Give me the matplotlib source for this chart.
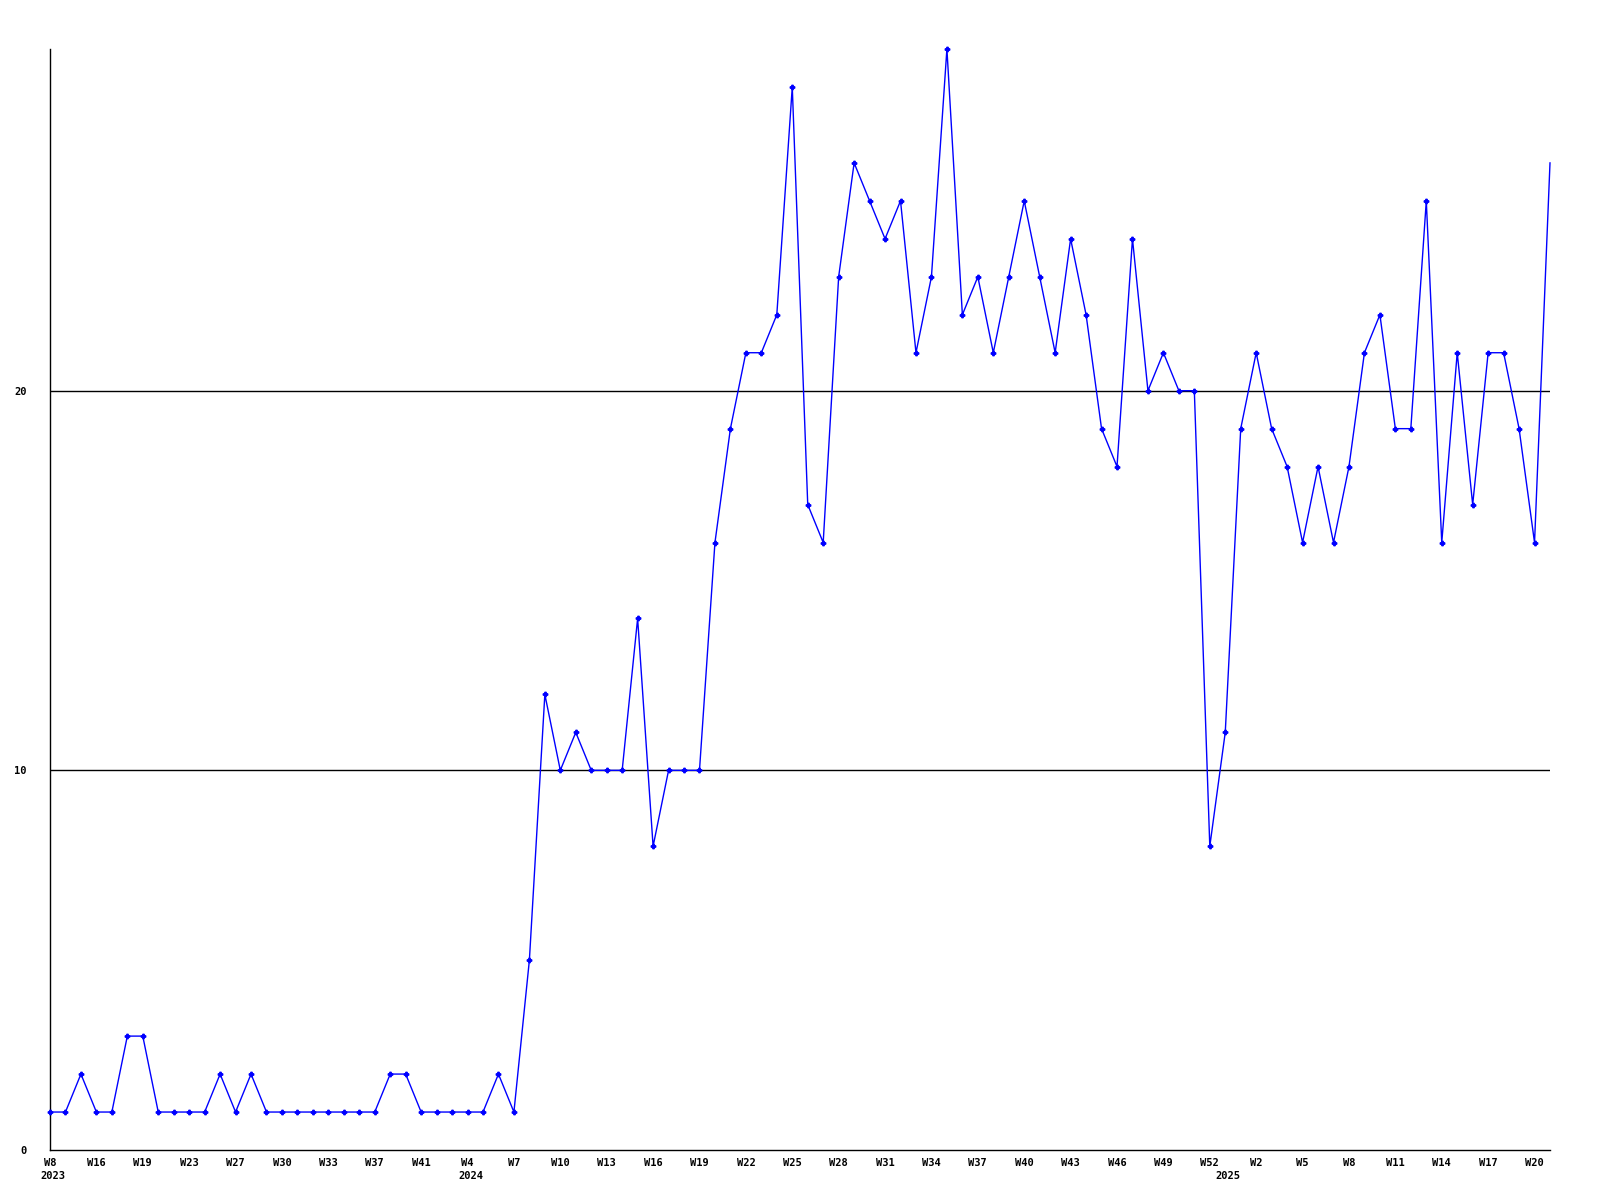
import numpy as np
import matplotlib
matplotlib.use("Agg")
import matplotlib.pyplot as plt

# weekly counts, one point per week in the data
values = [1, 1, 2, 1, 1, 3, 3, 1, 1, 1, 1, 2, 1, 2, 1, 1, 1, 1, 1, 1,
          1, 1, 2, 2, 1, 1, 1, 1, 1, 2, 1, 5, 12, 10, 11, 10, 10, 10, 14, 8,
          10, 10, 10, 16, 19, 21, 21, 22, 28, 17, 16, 23, 26, 25, 24, 25, 21, 23, 29, 22,
          23, 21, 23, 25, 23, 21, 24, 22, 19, 18, 24, 20, 21, 20, 20, 8, 11, 19, 21, 19,
          18, 16, 18, 16, 18, 21, 22, 19, 19, 25, 16, 21, 17, 21, 21, 19, 16, 26]

# every third week gets a label
tick_labels = ["W8", "W16", "W19", "W23", "W27", "W30", "W33", "W37", "W41", "W4", "W7",
               "W10", "W13", "W16", "W19", "W22", "W25", "W28", "W31", "W34", "W37", "W40", "W43",
               "W46", "W49", "W52", "W2", "W5", "W8", "W11", "W14", "W17", "W20"]

# first data week of each year
years = ["2023", "2024", "2025"]
year_idx = [0, 27, 76]

y_ticks = [0, 10, 20]

x = np.arange(len(values))

fig = plt.figure(figsize=(16, 12), dpi=100)
ax = fig.add_axes([50/1600, 1 - 1150/1200, 1500/1600, (1150 - 49)/1200])

font = dict(family="DejaVu Sans Mono", weight="bold", size=7.5)

for g in y_ticks[1:]:
    ax.axhline(g, color="black", lw=1.0, zorder=1)

ax.plot(x, values, color="#0000ff", lw=1.0, marker="P", markersize=3.2,
        markevery=list(range(len(values) - 1)), zorder=3, clip_on=False)

ax.set_xlim(0, len(values) - 1)
ax.set_ylim(0, 29)

ax.set_xticks(x[::3][:len(tick_labels)])
ax.set_xticklabels(tick_labels, fontdict=font)
ax.set_yticks(y_ticks)
ax.set_yticklabels([str(v) for v in y_ticks], fontdict=font)
ax.tick_params(axis="both", length=0)
ax.tick_params(axis="x", pad=6)
ax.tick_params(axis="y", pad=17)

for yr, i in zip(years, year_idx):
    ax.annotate(yr, xy=(i + 0.2, 0), xycoords=("data", "axes fraction"),
                xytext=(0, -21), textcoords="offset pixels", ha="center", va="top",
                **font)

for s in ["top", "right"]:
    ax.spines[s].set_visible(False)
for s in ["left", "bottom"]:
    ax.spines[s].set_linewidth(1.0)
    ax.spines[s].set_color("black")

fig.savefig("out.png", dpi=100, facecolor="white")
